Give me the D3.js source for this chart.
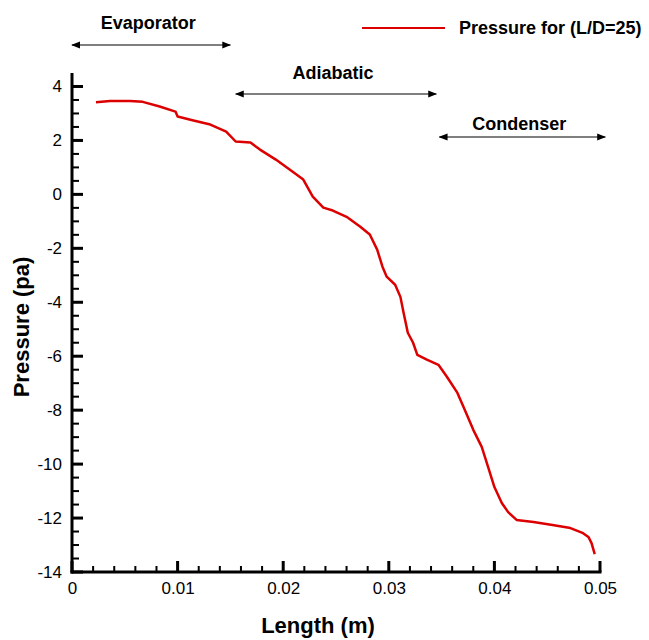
<!DOCTYPE html>
<html>
<head>
<meta charset="utf-8">
<script src="https://cdn.jsdelivr.net/npm/d3@7"></script>
<style>
  body { margin: 0; background: #fff; }
  svg { font-family: "Liberation Sans", Arial, sans-serif; }
  .axis text { font-size: 17px; fill: #000; }
</style>
</head>
<body>
<svg id="chart" width="649" height="640"></svg>
<script>
// curve
const lengthM = [0.00227, 0.0036, 0.0055, 0.0067, 0.0083, 0.0098, 0.0100, 0.0115, 0.0131, 0.0146,
  0.0155, 0.0169, 0.0178, 0.0193, 0.0209, 0.0219, 0.0228, 0.0238, 0.0247, 0.0260,
  0.0273, 0.0282, 0.0289, 0.0294, 0.0298, 0.0306, 0.0311, 0.0314, 0.0318, 0.0323,
  0.0327, 0.0336, 0.0347, 0.0355, 0.0365, 0.0372, 0.0380, 0.0388, 0.0394, 0.0400,
  0.0407, 0.0413, 0.0421, 0.0437, 0.0455, 0.0472, 0.0484, 0.0489, 0.0492, 0.0495];
const pressurePa = [3.42, 3.46, 3.46, 3.43, 3.26, 3.07, 2.89, 2.74, 2.59, 2.33,
  1.96, 1.92, 1.66, 1.29, 0.84, 0.55, -0.08, -0.49, -0.60, -0.83,
  -1.20, -1.49, -2.05, -2.68, -3.05, -3.35, -3.80, -4.39, -5.13, -5.50,
  -5.95, -6.13, -6.32, -6.76, -7.36, -7.99, -8.73, -9.36, -10.10, -10.85,
  -11.44, -11.78, -12.07, -12.15, -12.26, -12.37, -12.56, -12.70, -12.93, -13.34];

const xTicks = [0, 0.01, 0.02, 0.03, 0.04, 0.05];
const yTicks = [4, 2, 0, -2, -4, -6, -8, -10, -12, -14];
const sections = ["Evaporator", "Adiabatic", "Condenser"];
const sectionBounds = [[0, 0.015], [0.0155, 0.0345], [0.0348, 0.0505]];
const seriesName = "Pressure for (L/D=25)";

const svg = d3.select("#chart");
const margin = {left: 72, right: 49, top: 73, bottom: 68};
const W = 649, H = 640;

const x = d3.scaleLinear().domain([0, 0.05]).range([margin.left, W - margin.right]);
const y = d3.scaleLinear().domain([-14, 4.5]).range([H - margin.bottom, margin.top]);

const xMinor = d3.range(0, 0.0501, 0.002).filter(v => !xTicks.some(t => Math.abs(t - v) < 1e-9));
const yMinor = d3.range(-14, 4.51, 0.5).filter(v => !yTicks.includes(v) && v !== 4.5);

const x0 = x(0), yb = y(-14);

// tick labels from d3 axes
svg.append("g")
  .attr("class", "axis")
  .attr("transform", `translate(0,${yb})`)
  .call(d3.axisBottom(x).tickValues(xTicks).tickSize(0).tickPadding(10)
    .tickFormat(d => d === 0 ? "0" : d3.format(".2f")(d)))
  .call(g => g.select(".domain").remove());

svg.append("g")
  .attr("class", "axis")
  .attr("transform", `translate(${x0},0)`)
  .call(d3.axisLeft(y).tickValues(yTicks).tickSize(0).tickPadding(10)
    .tickFormat(d => String(d)))
  .call(g => g.select(".domain").remove());

// tick marks pointing inside, drawn as filled rects
const marks = svg.append("g").attr("fill", "#000");
marks.selectAll(".xmin").data(xMinor).join("rect")
  .attr("x", d => x(d) - 1).attr("y", yb - 6).attr("width", 2).attr("height", 6);
marks.selectAll(".xmaj").data(xTicks).join("rect")
  .attr("x", d => x(d) - 1.5).attr("y", yb - 11).attr("width", 3).attr("height", 11);
marks.selectAll(".ymin").data(yMinor).join("rect")
  .attr("x", x0).attr("y", d => y(d) - 1).attr("width", 7).attr("height", 2);
marks.selectAll(".ymaj").data(yTicks).join("rect")
  .attr("x", x0).attr("y", d => y(d) - 1.5).attr("width", 11).attr("height", 3);
marks.append("rect")
  .attr("x", x0 - 1.5).attr("y", y(4.5))
  .attr("width", 3).attr("height", yb - y(4.5) + 1.5);
marks.append("rect")
  .attr("x", x0 - 1.5).attr("y", yb - 1.5)
  .attr("width", x(0.05) - x0 + 3).attr("height", 3);

// curve
const pts = lengthM.map((d, i) => [d, pressurePa[i]]);
svg.append("path")
  .datum(pts)
  .attr("fill", "none")
  .attr("stroke", "#dd0000")
  .attr("stroke-width", 2.5)
  .attr("stroke-linejoin", "round")
  .attr("d", d3.line().x(d => x(d[0])).y(d => y(d[1])));

// section arrows
svg.append("defs").append("marker")
  .attr("id", "head")
  .attr("viewBox", "0 0 10 10")
  .attr("refX", 9).attr("refY", 5)
  .attr("markerWidth", 9).attr("markerHeight", 9)
  .attr("markerUnits", "userSpaceOnUse")
  .attr("orient", "auto-start-reverse")
  .append("path")
  .attr("d", "M0,1L10,5L0,9Z")
  .attr("fill", "#000");

const arrowY = [45, 94, 137];
const labelY = [29, 79, 130];
sections.forEach((s, i) => {
  const [a, b] = sectionBounds[i];
  svg.append("line")
    .attr("x1", x(a)).attr("x2", x(b))
    .attr("y1", arrowY[i]).attr("y2", arrowY[i])
    .attr("stroke", "#555")
    .attr("stroke-width", 1.5)
    .attr("marker-start", "url(#head)")
    .attr("marker-end", "url(#head)");
  svg.append("text")
    .attr("x", (x(a) + x(b)) / 2 - 3)
    .attr("y", labelY[i])
    .attr("text-anchor", "middle")
    .attr("font-size", 18)
    .attr("font-weight", "bold")
    .text(s);
});

// legend
svg.append("line")
  .attr("x1", 362).attr("x2", 445).attr("y1", 28).attr("y2", 28)
  .attr("stroke", "#dd0000").attr("stroke-width", 2);
svg.append("text")
  .attr("x", 459).attr("y", 34)
  .attr("font-size", 18).attr("font-weight", "bold")
  .text(seriesName);

// axis titles
svg.append("text")
  .attr("x", 318).attr("y", 633)
  .attr("text-anchor", "middle")
  .attr("font-size", 22).attr("font-weight", "bold")
  .text("Length (m)");
svg.append("text")
  .attr("transform", "translate(29,327) rotate(-90)")
  .attr("text-anchor", "middle")
  .attr("font-size", 22).attr("font-weight", "bold")
  .text("Pressure (pa)");
</script>
</body>
</html>
